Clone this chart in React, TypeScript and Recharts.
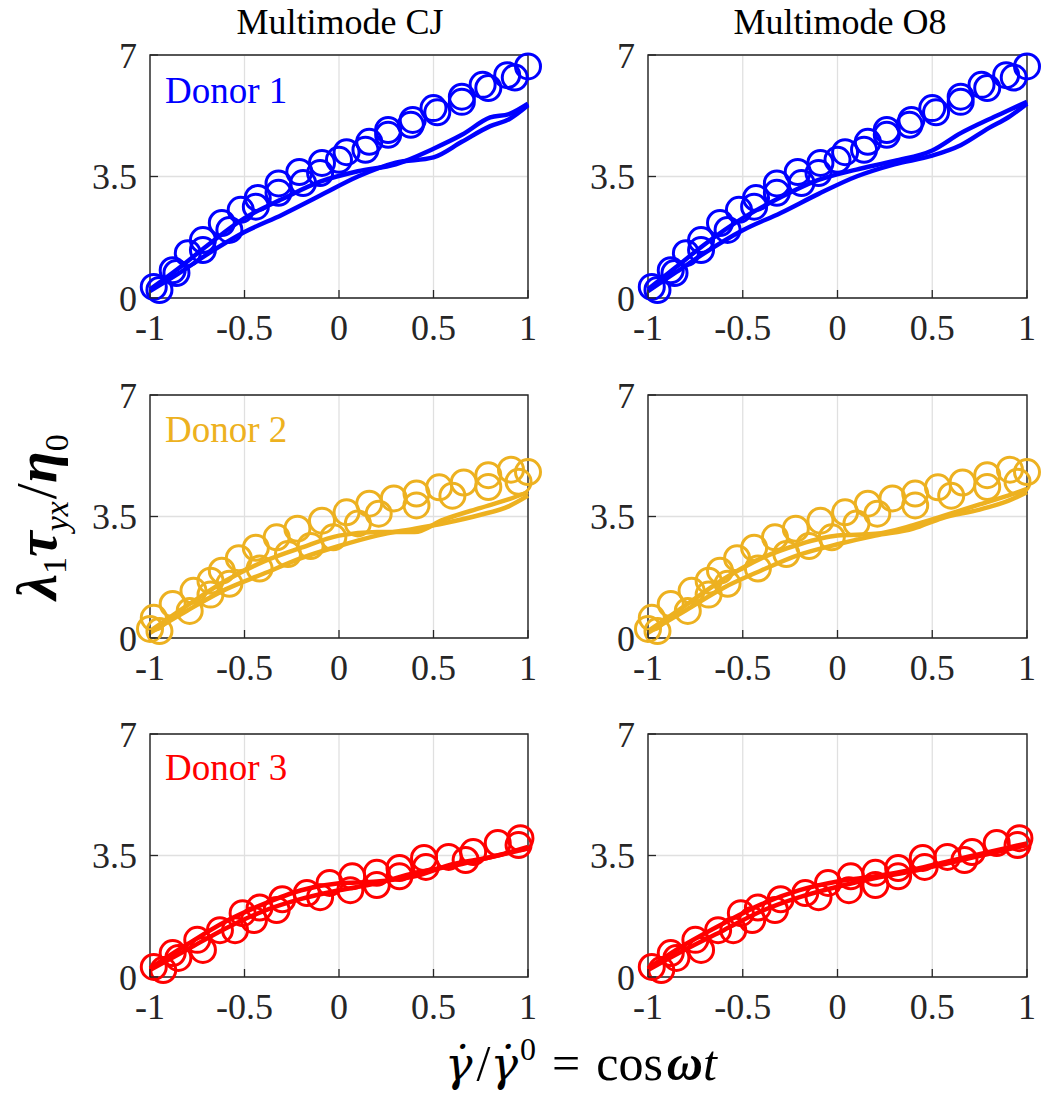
import { ComposedChart, Scatter, Line, XAxis, YAxis, CartesianGrid, ReferenceArea } from 'recharts'

const pts = (a: number[][]) => a.map(([x, y]) => ({ x, y }))

// axis ticks
const xTicks = [-1, -0.5, 0, 0.5, 1]
const yTicks = [0, 3.5, 7]

// experimental data (circles), same for both columns
const d1CirclesUp = pts([[-0.98, 0.32], [-0.88, 0.8], [-0.8, 1.29], [-0.72, 1.67], [-0.62, 2.16], [-0.52, 2.54], [-0.43, 2.88], [-0.32, 3.3], [-0.21, 3.63], [-0.09, 3.89], [0.04, 4.2], [0.16, 4.5], [0.26, 4.84], [0.39, 5.13], [0.5, 5.47], [0.65, 5.8], [0.76, 6.14], [0.89, 6.42], [1, 6.67]])
const d1CirclesDown = pts([[0.93, 6.35], [0.79, 6.05], [0.65, 5.65], [0.52, 5.35], [0.38, 4.99], [0.26, 4.7], [0.14, 4.27], [0.0, 3.98], [-0.1, 3.6], [-0.19, 3.31], [-0.32, 3.03], [-0.44, 2.63], [-0.58, 1.96], [-0.72, 1.38], [-0.86, 0.72], [-0.95, 0.23]])

const d2CirclesUp = pts([[-1, 0.26], [-0.98, 0.58], [-0.88, 0.98], [-0.77, 1.36], [-0.68, 1.65], [-0.62, 1.94], [-0.53, 2.3], [-0.44, 2.6], [-0.33, 2.9], [-0.22, 3.15], [-0.09, 3.38], [0.04, 3.62], [0.16, 3.87], [0.29, 4.02], [0.41, 4.16], [0.53, 4.34], [0.66, 4.48], [0.79, 4.69], [0.91, 4.85], [1, 4.78]])
const d2CirclesDown = pts([[0.95, 4.5], [0.79, 4.35], [0.6, 4.1], [0.41, 3.82], [0.21, 3.58], [0.1, 3.3], [-0.03, 2.9], [-0.15, 2.65], [-0.27, 2.42], [-0.42, 2.0], [-0.58, 1.56], [-0.68, 1.25], [-0.79, 0.78], [-0.95, 0.2]])

const d3CirclesUp = pts([[-0.98, 0.29], [-0.88, 0.69], [-0.75, 1.07], [-0.63, 1.35], [-0.51, 1.84], [-0.42, 2.0], [-0.3, 2.24], [-0.17, 2.42], [-0.05, 2.71], [0.07, 2.9], [0.2, 3.0], [0.32, 3.14], [0.45, 3.43], [0.58, 3.46], [0.71, 3.6], [0.84, 3.86], [0.96, 4.0]])
const d3CirclesDown = pts([[0.95, 3.8], [0.67, 3.37], [0.46, 3.17], [0.32, 2.9], [0.2, 2.65], [0.06, 2.5], [-0.1, 2.3], [-0.33, 1.93], [-0.45, 1.64], [-0.55, 1.35], [-0.72, 0.78], [-0.85, 0.55], [-0.93, 0.2]])

// model curves, Multimode CJ
const cjD1Up = pts([[-1, 0.25], [-0.85, 0.85], [-0.7, 1.5], [-0.5, 2.3], [-0.3, 2.85], [-0.1, 3.35], [0.1, 3.65], [0.3, 3.85], [0.5, 4.3], [0.65, 4.7], [0.8, 5.2], [0.9, 5.3], [1, 5.6]])
const cjD1Down = pts([[-1, 0.2], [-0.85, 0.7], [-0.7, 1.25], [-0.5, 1.9], [-0.3, 2.4], [-0.1, 2.95], [0.1, 3.5], [0.3, 3.9], [0.5, 4.05], [0.65, 4.5], [0.8, 4.95], [0.9, 5.15], [1, 5.55]])
const cjD2Up = pts([[-1, 0.2], [-0.8, 0.95], [-0.6, 1.65], [-0.4, 2.2], [-0.2, 2.6], [0, 2.95], [0.2, 3.05], [0.4, 3.05], [0.55, 3.4], [0.75, 3.75], [0.9, 4.0], [1, 4.2]])
const cjD2Down = pts([[-1, 0.15], [-0.8, 0.8], [-0.6, 1.4], [-0.4, 1.85], [-0.2, 2.3], [0, 2.65], [0.2, 2.95], [0.4, 3.15], [0.55, 3.3], [0.75, 3.55], [0.9, 3.8], [1, 4.1]])
const cjD3Up = pts([[-1, 0.25], [-0.8, 0.95], [-0.6, 1.6], [-0.4, 2.1], [-0.2, 2.5], [0, 2.7], [0.2, 2.75], [0.4, 2.9], [0.6, 3.25], [0.8, 3.45], [1, 3.75]])
const cjD3Down = pts([[-1, 0.2], [-0.8, 0.8], [-0.6, 1.4], [-0.4, 1.9], [-0.2, 2.25], [0, 2.5], [0.2, 2.7], [0.4, 3.0], [0.6, 3.2], [0.8, 3.45], [1, 3.7]])

// model curves, Multimode O8
const o8D1Up = pts([[-1, 0.25], [-0.85, 0.9], [-0.7, 1.55], [-0.5, 2.3], [-0.3, 2.9], [-0.1, 3.4], [0.1, 3.7], [0.3, 3.95], [0.5, 4.25], [0.65, 4.75], [0.8, 5.15], [0.9, 5.4], [1, 5.65]])
const o8D1Down = pts([[-1, 0.2], [-0.85, 0.75], [-0.7, 1.3], [-0.5, 1.95], [-0.3, 2.45], [-0.1, 3.0], [0.1, 3.5], [0.3, 3.85], [0.5, 4.1], [0.65, 4.4], [0.8, 4.9], [0.9, 5.2], [1, 5.6]])
const o8D2Up = pts([[-1, 0.2], [-0.8, 0.95], [-0.6, 1.7], [-0.4, 2.3], [-0.2, 2.7], [0, 2.95], [0.2, 3.0], [0.4, 3.25], [0.55, 3.5], [0.75, 3.85], [0.9, 4.1], [1, 4.3]])
const o8D2Down = pts([[-1, 0.15], [-0.8, 0.8], [-0.6, 1.45], [-0.4, 1.95], [-0.2, 2.4], [0, 2.7], [0.2, 2.95], [0.4, 3.15], [0.55, 3.45], [0.75, 3.7], [0.9, 3.95], [1, 4.2]])
const o8D3Up = pts([[-1, 0.25], [-0.8, 0.95], [-0.6, 1.55], [-0.4, 2.1], [-0.2, 2.5], [0, 2.75], [0.2, 2.9], [0.4, 3.1], [0.6, 3.35], [0.8, 3.6], [1, 3.85]])
const o8D3Down = pts([[-1, 0.2], [-0.8, 0.8], [-0.6, 1.35], [-0.4, 1.9], [-0.2, 2.3], [0, 2.6], [0.2, 2.85], [0.4, 3.05], [0.6, 3.3], [0.8, 3.55], [1, 3.8]])

const BLUE = '#0000ff'
const YELLOW = '#edb120'
const RED = '#ff0000'
const INK = '#262626'
const FONT = '"Liberation Serif", "DejaVu Serif", serif'

const Y_AXIS_W = 80
const H = 20 + 243 + 50

const XTick = ({ x, y, payload }: any) => (
  <g>
    <line x1={x} x2={x} y1={y} y2={y - 8} stroke={INK} strokeWidth={1.3} />
    <text x={x} y={y + 42} textAnchor="middle" fill={INK} fontSize={36} style={{ fontFamily: FONT }}>
      {String(payload.value)}
    </text>
  </g>
)

const YTick = ({ x, y, payload }: any) => (
  <g>
    <line x1={x} x2={x + 8} y1={y} y2={y} stroke={INK} strokeWidth={1.3} />
    <text x={x - 13} y={y} dy="0.35em" textAnchor="end" fill={INK} fontSize={36} style={{ fontFamily: FONT }}>
      {String(payload.value)}
    </text>
  </g>
)

function Panel({ left, top, width, color, circlesUp, circlesDown, lineUp, lineDown }: any) {
  const ring = (p: any) => (
    <circle cx={p.cx} cy={p.cy} r={12.5} fill="none" stroke={color} strokeWidth={3} />
  )
  return (
    <div style={{ position: 'absolute', left, top: top - 20 }}>
      <ComposedChart width={width} height={H} margin={{ top: 20, right: 15, bottom: 0, left: 0 }}>
        <CartesianGrid stroke="#e0e0e0" strokeWidth={1.3} />
        <XAxis type="number" dataKey="x" domain={[-1, 1]} ticks={xTicks} tick={(p: any) => <XTick {...p} />}
          tickSize={0} tickMargin={0} tickLine={false} axisLine={false} height={50} interval={0} />
        <YAxis type="number" dataKey="y" domain={[0, 7]} ticks={yTicks} tick={(p: any) => <YTick {...p} />}
          tickSize={0} tickMargin={0} tickLine={false} axisLine={false} width={Y_AXIS_W} interval={0} />
        <ReferenceArea x1={-1} x2={1} y1={0} y2={7} fill="none" fillOpacity={0} stroke={INK} strokeWidth={1.4} ifOverflow="visible" />
        <Scatter data={circlesUp} dataKey="y" shape={ring} isAnimationActive={false} />
        <Scatter data={circlesDown} dataKey="y" shape={ring} isAnimationActive={false} />
        <Line data={lineUp} dataKey="y" type="monotone" stroke={color} strokeWidth={4.5} dot={false} isAnimationActive={false} />
        <Line data={lineDown} dataKey="y" type="monotone" stroke={color} strokeWidth={4.5} dot={false} isAnimationActive={false} />
      </ComposedChart>
    </div>
  )
}

// plot areas: left column x 150..528, right column x 648..1027
const LEFT_X = 150 - Y_AXIS_W
const RIGHT_X = 648 - Y_AXIS_W
const LEFT_W = 528 + 15 - LEFT_X
const RIGHT_W = 1027 + 15 - RIGHT_X
const ROWS = [55, 395, 734]

export default function App() {
  return (
    <div style={{ position: 'absolute', left: 0, top: 0, width: 1041, height: 1099, background: '#fff' }}>
      <Panel left={LEFT_X} width={LEFT_W} top={ROWS[0]} color={BLUE} circlesUp={d1CirclesUp} circlesDown={d1CirclesDown} lineUp={cjD1Up} lineDown={cjD1Down} />
      <Panel left={RIGHT_X} width={RIGHT_W} top={ROWS[0]} color={BLUE} circlesUp={d1CirclesUp} circlesDown={d1CirclesDown} lineUp={o8D1Up} lineDown={o8D1Down} />
      <Panel left={LEFT_X} width={LEFT_W} top={ROWS[1]} color={YELLOW} circlesUp={d2CirclesUp} circlesDown={d2CirclesDown} lineUp={cjD2Up} lineDown={cjD2Down} />
      <Panel left={RIGHT_X} width={RIGHT_W} top={ROWS[1]} color={YELLOW} circlesUp={d2CirclesUp} circlesDown={d2CirclesDown} lineUp={o8D2Up} lineDown={o8D2Down} />
      <Panel left={LEFT_X} width={LEFT_W} top={ROWS[2]} color={RED} circlesUp={d3CirclesUp} circlesDown={d3CirclesDown} lineUp={cjD3Up} lineDown={cjD3Down} />
      <Panel left={RIGHT_X} width={RIGHT_W} top={ROWS[2]} color={RED} circlesUp={d3CirclesUp} circlesDown={d3CirclesDown} lineUp={o8D3Up} lineDown={o8D3Down} />

      <svg width={1041} height={1099} style={{ position: 'absolute', left: 0, top: 0, pointerEvents: 'none', fontFamily: FONT }}>
        <text x={340} y={34} fontSize={36} textAnchor="middle" fill="#000">Multimode CJ</text>
        <text x={840} y={34} fontSize={36} textAnchor="middle" fill="#000">Multimode O8</text>
        <text x={165} y={103} fontSize={37} fill={BLUE}>Donor 1</text>
        <text x={165} y={442} fontSize={37} fill={YELLOW}>Donor 2</text>
        <text x={165} y={780} fontSize={37} fill={RED}>Donor 3</text>

        <text transform="translate(56,517) rotate(-90)" textAnchor="middle" fontSize={58} fill="#000">
          <tspan fontWeight="bold" fontStyle="italic">λ</tspan>
          <tspan fontSize={34} dy={10}>1</tspan>
          <tspan fontWeight="bold" fontStyle="italic" dy={-10}>τ</tspan>
          <tspan fontSize={34} fontStyle="italic" dy={12}>yx</tspan>
          <tspan dy={-12} dx={2}>/</tspan>
          <tspan fontWeight="bold" fontStyle="italic">η</tspan>
          <tspan fontSize={34} dy={12}>0</tspan>
        </text>

        <text x={581} y={1080} textAnchor="middle" fontSize={50} fill="#000">
          <tspan fontStyle="italic" style={{ fontFamily: '"DejaVu Serif", serif' }} fontSize={46}>{'\u03B3\u0307'}</tspan>
          <tspan dx={4}>/</tspan>
          <tspan fontStyle="italic" style={{ fontFamily: '"DejaVu Serif", serif' }} fontSize={46}>{'\u03B3\u0307'}</tspan>
          <tspan fontSize={32} dx={2} dy={-20}>0</tspan>
          <tspan dx={16} dy={20}>=</tspan>
          <tspan dx={16}>cos</tspan>
          <tspan fontWeight="bold" fontStyle="italic" dx={4}>ω</tspan>
          <tspan fontStyle="italic">t</tspan>
        </text>
      </svg>
    </div>
  )
}
